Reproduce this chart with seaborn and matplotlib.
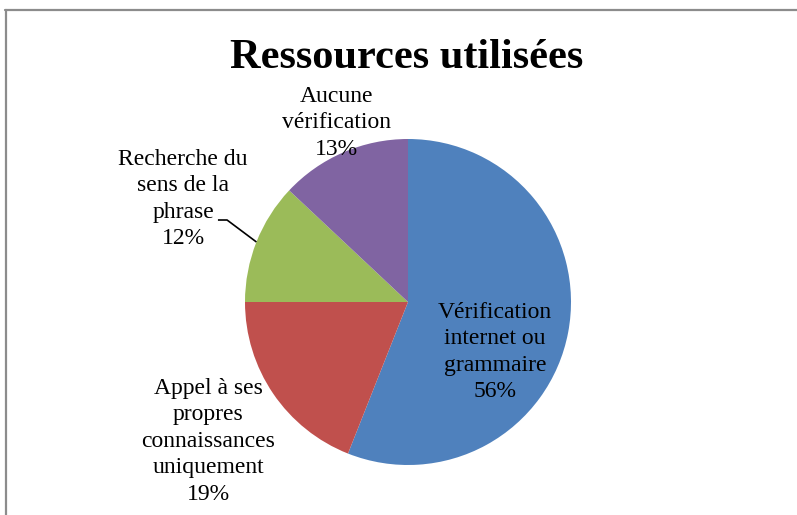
import numpy as np
import matplotlib
matplotlib.use("Agg")
from matplotlib import pyplot as plt
from matplotlib.lines import Line2D
import seaborn as sns

categories = ["Vérification\ninternet ou\ngrammaire",
              "Appel à ses\npropres\nconnaissances\nuniquement",
              "Recherche du\nsens de la\nphrase",
              "Aucune\nvérification"]
shares = [56, 19, 12, 13]
colors = ["#4F81BD", "#C0504D", "#9BBB59", "#8064A2"]

sns.set_theme(style="white")
plt.rcParams["font.family"] = ["Liberation Serif", "DejaVu Serif"]
plt.rcParams["text.color"] = "black"

W, H = 797, 515
fig = plt.figure(figsize=(W / 100, H / 100), dpi=100)
cx, cy, r = 408, 302, 163
ax = fig.add_axes([(cx - r) / W, (H - cy - r) / H, 2 * r / W, 2 * r / H])

wedges, _ = ax.pie(shares, colors=colors, startangle=90, counterclock=False,
                   radius=1, wedgeprops=dict(linewidth=0))
ax.set_xlim(-1, 1)
ax.set_ylim(-1, 1)
ax.set_aspect("equal")
ax.axis("off")

# label positions (data units, radius = 1)
label_pos = [(0.534, -0.307), (-1.227, -0.855), (-1.380, 0.632), (-0.436, 1.10)]
for lab, val, (x, y) in zip(categories, shares, label_pos):
    ax.text(x, y, f"{lab}\n{val}%", ha="center", va="center", fontsize=17,
            linespacing=1.34, color="black", clip_on=False)

# leader line to the green wedge
theta = np.deg2rad(90 - 360 * (shares[0] + shares[1] + shares[2] / 2) / 100)
px, py = np.cos(theta), np.sin(theta)
ax.plot([-1.166, -1.110, px], [0.503, 0.503, py], color="black", lw=1.2,
        clip_on=False, solid_capstyle="butt")

fig.text(0.51, 1 - 58 / H, "Ressources utilisées", ha="center", va="center",
         fontsize=30.5, fontweight="bold", color="black")

# chart frame (top and left visible)
fig.add_artist(Line2D([5 / W, 1], [1 - 10 / H, 1 - 10 / H], color="#8c8c8c", lw=1.6))
fig.add_artist(Line2D([6 / W, 6 / W], [0, 1 - 10 / H], color="#8c8c8c", lw=1.6))

fig.savefig("out.png", dpi=100, facecolor="white")
